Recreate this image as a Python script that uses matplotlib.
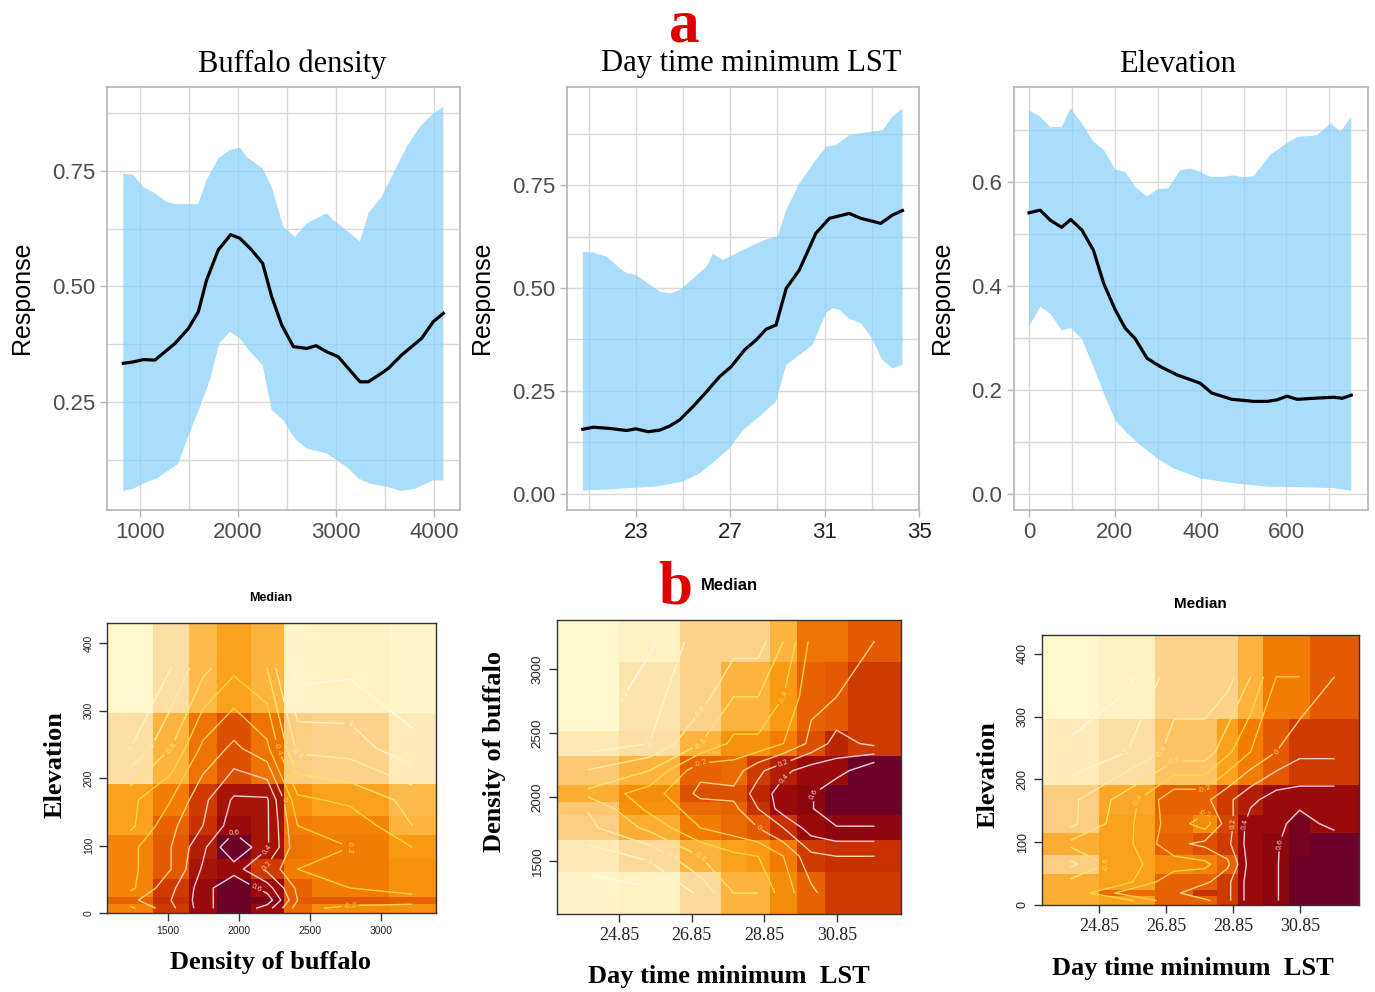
import numpy as np
import matplotlib
matplotlib.use("Agg")
from matplotlib import pyplot as plt
from matplotlib.colors import LinearSegmentedColormap, Normalize

SERIF = "Liberation Serif"
SANS = "Liberation Sans"

# ---------------- top row : response curves ----------------
# Buffalo density
buf_mean_x = [830, 932, 1034, 1153, 1357, 1493, 1594, 1679, 1798, 1924, 2019, 2138, 2250, 2342,
              2444, 2563, 2699, 2794, 2902, 3021, 3123, 3242, 3327, 3429, 3531, 3667, 3870, 3989, 4091]
buf_mean = [0.334, 0.337, 0.342, 0.341, 0.377, 0.409, 0.445, 0.514, 0.579, 0.612, 0.604, 0.579, 0.550, 0.478,
            0.417, 0.370, 0.366, 0.372, 0.359, 0.348, 0.323, 0.294, 0.294, 0.308, 0.323, 0.352, 0.388, 0.424, 0.442]
buf_hi_x = [830, 932, 1034, 1153, 1272, 1357, 1594, 1679, 1798, 1917, 2019, 2087, 2250, 2342,
            2461, 2580, 2699, 2902, 2970, 3123, 3242, 3327, 3463, 3582, 3718, 3853, 3989, 4091]
buf_hi = [0.744, 0.741, 0.715, 0.701, 0.683, 0.678, 0.678, 0.730, 0.777, 0.795, 0.800, 0.780, 0.755, 0.715,
          0.629, 0.607, 0.636, 0.658, 0.643, 0.618, 0.597, 0.658, 0.694, 0.744, 0.802, 0.845, 0.874, 0.888]
buf_lo_x = [830, 932, 1034, 1170, 1391, 1476, 1611, 1713, 1808, 1917, 2019, 2121, 2250, 2342,
            2461, 2580, 2699, 2902, 3004, 3123, 3225, 3344, 3514, 3667, 3803, 3904, 3989, 4091]
buf_lo = [0.058, 0.063, 0.074, 0.085, 0.117, 0.168, 0.240, 0.298, 0.377, 0.402, 0.388, 0.359, 0.330, 0.233,
          0.211, 0.171, 0.150, 0.139, 0.125, 0.107, 0.085, 0.074, 0.067, 0.058, 0.063, 0.073, 0.081, 0.081]

# Day time minimum LST
lst_mean_x = [20.75, 21.2, 21.9, 22.6, 23.0, 23.52, 24.01, 24.44, 24.86, 25.42, 25.99, 26.55, 27.04,
              27.61, 28.1, 28.52, 28.94, 29.37, 29.93, 30.63, 31.2, 32.04, 32.54, 33.38, 33.87, 34.3]
lst_mean = [0.157, 0.162, 0.159, 0.154, 0.158, 0.151, 0.155, 0.165, 0.180, 0.212, 0.248, 0.285, 0.309,
            0.350, 0.374, 0.400, 0.410, 0.499, 0.544, 0.633, 0.669, 0.681, 0.669, 0.657, 0.677, 0.688]
lst_hi_x = [20.75, 21.2, 21.76, 22.32, 22.61, 23.0, 23.52, 24.01, 24.44, 24.86, 25.42, 25.99, 26.27, 26.69,
            27.25, 27.96, 28.52, 29.01, 29.37, 29.93, 30.63, 31.06, 31.48, 32.04, 32.89, 33.45, 33.87, 34.3]
lst_hi = [0.588, 0.586, 0.576, 0.548, 0.536, 0.532, 0.511, 0.491, 0.487, 0.495, 0.523, 0.552, 0.583, 0.568,
          0.584, 0.604, 0.618, 0.625, 0.689, 0.754, 0.811, 0.843, 0.847, 0.871, 0.879, 0.883, 0.916, 0.936]
lst_lo_x = [20.75, 21.2, 21.9, 22.61, 23.31, 23.87, 24.44, 25.0, 25.7, 26.41, 26.97, 27.54, 28.24,
            28.94, 29.37, 29.93, 30.49, 31.06, 31.34, 31.62, 32.04, 32.54, 32.96, 33.45, 33.87, 34.3]
lst_lo = [0.008, 0.010, 0.011, 0.014, 0.016, 0.018, 0.024, 0.030, 0.050, 0.083, 0.111, 0.155, 0.188,
          0.224, 0.313, 0.337, 0.362, 0.439, 0.451, 0.447, 0.426, 0.414, 0.382, 0.325, 0.305, 0.313]

# Elevation
ele_mean_x = [0, 26, 49, 76, 97, 123, 150, 174, 201, 224, 247, 275, 306, 345, 399, 426, 473,
              524, 555, 578, 601, 625, 664, 710, 730, 751]
ele_mean = [0.541, 0.546, 0.527, 0.513, 0.528, 0.508, 0.469, 0.405, 0.354, 0.319, 0.299, 0.261, 0.245,
            0.229, 0.213, 0.194, 0.182, 0.178, 0.178, 0.181, 0.188, 0.182, 0.184, 0.186, 0.184, 0.190]
ele_hi_x = [0, 26, 49, 76, 97, 123, 150, 174, 201, 224, 247, 275, 298, 325, 352, 376, 399, 422,
            450, 477, 500, 524, 562, 594, 625, 671, 703, 726, 751]
ele_hi = [0.738, 0.726, 0.706, 0.706, 0.742, 0.713, 0.678, 0.662, 0.624, 0.620, 0.591, 0.572, 0.586,
          0.588, 0.623, 0.626, 0.620, 0.610, 0.610, 0.613, 0.609, 0.612, 0.652, 0.671, 0.687, 0.690,
          0.713, 0.697, 0.726]
ele_lo_x = [0, 26, 49, 76, 97, 123, 150, 174, 201, 228, 259, 298, 337, 399, 446, 492, 555, 633, 710, 751]
ele_lo = [0.322, 0.360, 0.347, 0.315, 0.319, 0.299, 0.245, 0.194, 0.142, 0.117, 0.094, 0.069, 0.049,
          0.030, 0.024, 0.019, 0.014, 0.013, 0.011, 0.006]

# ---------------- bottom row : median heat maps ----------------
lst_edges = [23.15, 24.85, 26.53, 27.65, 28.36, 28.99, 29.75, 30.52, 31.14, 32.6]
elev_edges = [0, 14, 24, 50, 80, 115, 144, 191, 297, 430]
dens_x_edges = [1069, 1396, 1644, 1844, 2080, 2311, 2509, 3051, 3384]
dens_y_edges = [1083, 1411, 1660, 1856, 1961, 2092, 2322, 2516, 3055, 3388]

# median response, rows listed from top to bottom
z_dens_elev = [
    [-1.40, -1.00, -0.66, -0.45, -0.60, -1.30, -1.25, -1.35],
    [-1.00, -0.60, -0.15, 0.05, -0.15, -0.85, -0.89, -1.15],
    [-0.45, -0.20, 0.15, 0.43, 0.43, -0.35, -0.45, -0.66],
    [-0.45, -0.05, 0.20, 0.50, 0.43, -0.20, -0.25, -0.60],
    [-0.25, 0.00, 0.35, 0.80, 0.43, -0.15, -0.20, -0.40],
    [-0.25, 0.00, 0.43, 0.50, 0.15, -0.20, -0.20, -0.35],
    [-0.25, 0.15, 0.50, 0.80, 0.50, -0.05, -0.20, -0.35],
    [-0.05, 0.20, 0.50, 0.80, 0.73, 0.00, 0.00, -0.05],
    [-0.25, 0.15, 0.50, 0.80, 0.50, -0.10, -0.30, -0.35],
]
z_lst_dens = [
    [-1.40, -1.25, -0.89, -0.89, -0.89, -0.60, -0.15, -0.15, 0.00],
    [-1.40, -1.05, -0.89, -0.60, -0.60, -0.40, -0.05, 0.00, 0.15],
    [-1.10, -1.00, -0.60, -0.35, -0.35, -0.20, 0.05, 0.28, 0.15],
    [-0.79, -0.60, -0.05, -0.10, 0.15, 0.35, 0.50, 0.50, 0.80],
    [-0.55, -0.30, 0.05, 0.05, 0.28, 0.50, 0.58, 0.80, 0.80],
    [-0.79, -0.35, -0.10, -0.05, 0.20, 0.50, 0.58, 0.80, 0.80],
    [-0.85, -0.55, -0.20, -0.10, 0.00, 0.20, 0.50, 0.58, 0.58],
    [-1.10, -0.96, -0.60, -0.45, -0.40, -0.20, 0.15, 0.20, 0.20],
    [-1.30, -1.25, -0.96, -0.60, -0.60, -0.30, -0.05, 0.15, 0.15],
]
z_lst_elev = [
    [-1.40, -1.25, -0.89, -0.89, -0.89, -0.60, -0.20, -0.20, 0.00],
    [-1.15, -1.00, -0.73, -0.73, -0.45, -0.20, 0.00, 0.15, 0.15],
    [-0.85, -0.50, -0.05, -0.05, 0.15, 0.35, 0.50, 0.50, 0.50],
    [-0.85, -0.45, -0.10, -0.30, 0.10, 0.50, 0.50, 0.73, 0.50],
    [-0.55, -0.45, -0.05, 0.05, 0.15, 0.50, 0.58, 0.73, 0.80],
    [-0.85, -0.45, -0.30, -0.25, -0.05, 0.50, 0.58, 0.80, 0.80],
    [-0.55, -0.45, -0.05, -0.05, 0.15, 0.50, 0.58, 0.80, 0.80],
    [-0.55, -0.10, -0.05, 0.20, 0.15, 0.50, 0.58, 0.80, 0.80],
    [-0.55, -0.45, -0.05, -0.05, 0.15, 0.50, 0.58, 0.80, 0.80],
]
contour_levels = [-1.2, -1.0, -0.8, -0.6, -0.4, -0.2, 0.0, 0.2, 0.4, 0.6]

heat = LinearSegmentedColormap.from_list("heat", [
    (0.000, "#fff8cc"), (0.091, "#feefbf"), (0.182, "#fddfa5"), (0.250, "#fdcd80"),
    (0.364, "#fcb43e"), (0.455, "#f99a12"), (0.545, "#f27c06"), (0.636, "#e35a02"),
    (0.727, "#c83200"), (0.864, "#9a0a08"), (1.000, "#6c0026")])
heat_norm = Normalize(-1.4, 0.8)
line_cmap = LinearSegmentedColormap.from_list("lines", [
    "#fff8e4", "#fff2c4", "#ffe888", "#ffd840", "#ffd050", "#ffd6a0", "#f8c8d8", "#f2d0e6"])

W, H = 1375, 992
fig = plt.figure(figsize=(W / 100, H / 100), dpi=100)


def px_axes(x0, y0, x1, y1):
    return fig.add_axes([x0 / W, 1 - y1 / H, (x1 - x0) / W, (y1 - y0) / H])


def px_text(x, y, s, va="center", **kw):
    fig.text(x / W, 1 - y / H, s, ha="center", va=va, **kw)


def response_panel(box, mx, my, hx, hy, lx, ly, xlim, ylim, xmaj, xmin, ymaj, ymin, yfmt, xcol="#4d4d4d"):
    ax = px_axes(*box)
    ax.set_axisbelow(True)
    ax.fill(list(hx) + list(lx)[::-1], list(hy) + list(ly)[::-1],
            color="#87cefa", alpha=0.7, lw=0, zorder=2)
    ax.plot(mx, my, color="black", lw=2.3, zorder=3)
    ax.set_xlim(*xlim)
    ax.set_ylim(*ylim)
    ax.set_xticks(xmaj)
    ax.set_xticks(xmin, minor=True)
    ax.set_yticks(ymaj)
    ax.set_yticks(ymin, minor=True)
    ax.set_yticklabels([yfmt % v for v in ymaj])
    ax.grid(True, which="both", color="#d9d9d9", lw=1.0)
    for s in ax.spines.values():
        s.set_color("#b5b5b5")
        s.set_linewidth(1.2)
    ax.tick_params(which="major", length=5, color="#b5b5b5", width=1,
                   labelsize=16, labelcolor="#4d4d4d")
    ax.tick_params(axis="x", labelcolor=xcol)
    ax.tick_params(which="minor", length=0)
    for lab in ax.get_xticklabels() + ax.get_yticklabels():
        lab.set_family(SANS)
    return ax


response_panel((107, 87, 460, 510), buf_mean_x, buf_mean, buf_hi_x, buf_hi, buf_lo_x, buf_lo,
               (664, 4261), (0.017, 0.931), [1000, 2000, 3000, 4000], [1500, 2500, 3500],
               [0.25, 0.5, 0.75], [0.125, 0.375, 0.625, 0.875], "%.2f")
response_panel((567, 87, 919, 510), lst_mean_x, lst_mean, lst_hi_x, lst_hi, lst_lo_x, lst_lo,
               (20.08, 35.0), (-0.039, 0.988), [23, 27, 31, 35], [21, 25, 29, 33],
               [0.0, 0.25, 0.5, 0.75], [0.125, 0.375, 0.625, 0.875], "%.2f", xcol="#222222")
response_panel((1014, 87, 1368, 510), ele_mean_x, ele_mean, ele_hi_x, ele_hi, ele_lo_x, ele_lo,
               (-35, 790), (-0.031, 0.783), [0, 200, 400, 600], [100, 300, 500, 700],
               [0.0, 0.2, 0.4, 0.6], [0.1, 0.3, 0.5, 0.7], "%.1f")

px_text(292, 64, "Buffalo density", family=SERIF, fontsize=22)
px_text(751, 64, "Day time minimum LST", family=SERIF, fontsize=22)
px_text(1177, 64, "Elevation", family=SERIF, fontsize=22)
for xr in (22, 482, 942):
    px_text(xr, 298, "Response", family=SANS, fontsize=18, rotation=90)
px_text(684, 42, "a", va="baseline", family=SERIF, fontsize=44, fontweight="bold", color="#e00000")
px_text(675, 603, "b", va="baseline", family=SERIF, fontsize=44, fontweight="bold", color="#e00000")


def heat_panel(box, xe, ye, z, xt, xtl, xsize, xfamily, yt, ysize):
    ax = px_axes(*box)
    zz = np.flipud(np.array(z))
    ax.pcolormesh(xe, ye, zz, cmap=heat, norm=heat_norm, shading="flat")
    xe = np.array(xe, dtype=float)
    ye = np.array(ye, dtype=float)
    xc = (xe[:-1] + xe[1:]) / 2
    yc = (ye[:-1] + ye[1:]) / 2
    cs = ax.contour(xc, yc, zz, levels=contour_levels, cmap=line_cmap, linewidths=1.0)
    ax.clabel(cs, fontsize=5, fmt="%g", inline=True, inline_spacing=2)
    ax.set_xlim(xe[0], xe[-1])
    ax.set_ylim(ye[0], ye[-1])
    ax.set_xticks(xt)
    ax.set_xticklabels(xtl, family=xfamily, fontsize=xsize)
    ax.set_yticks(yt)
    ax.set_yticklabels([str(v) for v in yt], rotation=90, va="center", family=SANS, fontsize=ysize)
    ax.tick_params(length=6, width=1, color="#333333", labelcolor="#222222")
    for s in ax.spines.values():
        s.set_color("#333333")
        s.set_linewidth(1.0)
    return ax


heat_panel((107, 623, 436, 913), dens_x_edges, elev_edges, z_dens_elev,
           [1500, 2000, 2500, 3000], ["1500", "2000", "2500", "3000"], 7.5, SANS,
           [0, 100, 200, 300, 400], 7.5)
heat_panel((557, 620, 901, 914), lst_edges, dens_y_edges, z_lst_dens,
           [24.85, 26.85, 28.85, 30.85], ["24.85", "26.85", "28.85", "30.85"], 13, SERIF,
           [1500, 2000, 2500, 3000], 9.5)
heat_panel((1042, 635, 1359, 905), lst_edges, elev_edges, z_lst_elev,
           [24.85, 26.85, 28.85, 30.85], ["24.85", "26.85", "28.85", "30.85"], 13, SERIF,
           [0, 100, 200, 300, 400], 9)

px_text(271, 598, "Median", family=SANS, fontsize=9, fontweight="bold")
px_text(729, 586, "Median", family=SANS, fontsize=12, fontweight="bold")
px_text(1200, 604, "Median", family=SANS, fontsize=11, fontweight="bold")

px_text(271, 963, "Density of buffalo", family=SERIF, fontsize=19, fontweight="bold")
px_text(55, 765, "Elevation", family=SERIF, fontsize=19, fontweight="bold", rotation=90)
px_text(729, 977, "Day time minimum  LST", family=SERIF, fontsize=19, fontweight="bold")
px_text(495, 752, "Density of buffalo", family=SERIF, fontsize=19, fontweight="bold", rotation=90)
px_text(1193, 969, "Day time minimum  LST", family=SERIF, fontsize=19, fontweight="bold")
px_text(988, 775, "Elevation", family=SERIF, fontsize=19, fontweight="bold", rotation=90)

fig.savefig("out.png", dpi=100)
